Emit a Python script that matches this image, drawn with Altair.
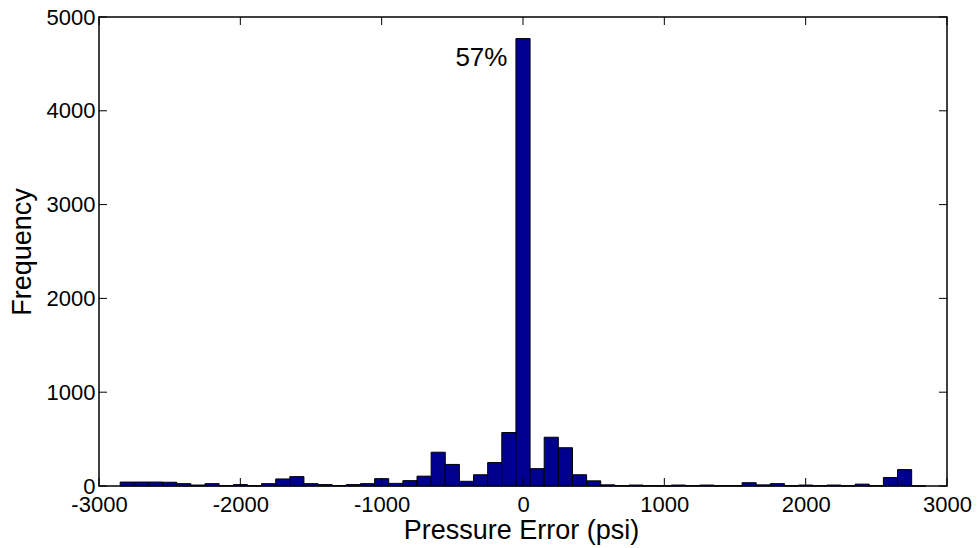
import altair as alt
import pandas as pd

# Histogram data (bin centers in psi, counts)
bin_centers = list(range(-2800, 2900, 100))
counts = [42, 42, 42, 40, 25, 10, 25, 3, 15, 3,
          25, 75, 100, 25, 15, 4, 15, 25, 78, 28,
          57, 105, 360, 230, 50, 120, 250, 570, 4770, 185,
          520, 408, 120, 55, 12, 2, 10, 2, 2, 10,
          2, 10, 2, 2, 35, 12, 25, 2, 10, 2,
          10, 2, 20, 2, 90, 175, 0]
bin_width = 100

x_ticks = [-3000, -2000, -1000, 0, 1000, 2000, 3000]
y_ticks = [0, 1000, 2000, 3000, 4000, 5000]

annot_text = ["57%"]
annot_x = [-110]
annot_y = [4478]

W, H = 848, 469

df = pd.DataFrame({"c": bin_centers, "n": counts})
df["x0"] = df["c"] - bin_width / 2
df["x1"] = df["c"] + bin_width / 2
df["base"] = 0

xs = alt.Scale(domain=[-3000, 3000], nice=False, zero=False)
ys = alt.Scale(domain=[0, 5000], nice=False)
FONT = "Liberation Sans"

xaxis = alt.Axis(
    values=x_ticks, title="Pressure Error (psi)", ticks=False, grid=False,
    domain=False, labelPadding=18, labelBaseline="middle", labelFontSize=22,
    labelFont=FONT, labelColor="black", titleFont=FONT, titleFontSize=27,
    titleFontWeight="normal", titleColor="black", titleBaseline="middle",
    titleY=44, titleX=W / 2 - 2, labelFlush=False, labelOverlap=False,
    labelExpr="datum.value + ''")
yaxis = alt.Axis(
    values=y_ticks, title="Frequency", ticks=False, grid=False, domain=False,
    labelPadding=4, labelFontSize=22, labelFont=FONT, labelColor="black",
    titleFont=FONT, titleFontSize=27, titleFontWeight="normal",
    titleColor="black", titleAngle=-90, titleBaseline="middle",
    titleAlign="center", titleX=-77, titleY=H / 2, labelFlush=False,
    labelOverlap=False, labelExpr="datum.value + ''")

bars = alt.Chart(df).mark_bar(color="#00008F", stroke="black", strokeWidth=1).encode(
    x=alt.X("x0:Q", scale=xs, axis=xaxis),
    x2="x1:Q",
    y=alt.Y("n:Q", scale=ys, axis=yaxis),
    y2="base:Q",
)

xt = pd.DataFrame({"v": x_ticks})
yt = pd.DataFrame({"v": y_ticks})

xb = alt.Chart(xt).mark_rule(color="black", strokeWidth=1).encode(
    x=alt.X("v:Q", scale=xs, axis=xaxis), y=alt.value(H), y2=alt.value(H - 8))
xtop = alt.Chart(xt).mark_rule(color="black", strokeWidth=1).encode(
    x=alt.X("v:Q", scale=xs, axis=xaxis), y=alt.value(0), y2=alt.value(8))
yl = alt.Chart(yt).mark_rule(color="black", strokeWidth=1).encode(
    y=alt.Y("v:Q", scale=ys, axis=yaxis), x=alt.value(0), x2=alt.value(8))
yr = alt.Chart(yt).mark_rule(color="black", strokeWidth=1).encode(
    y=alt.Y("v:Q", scale=ys, axis=yaxis), x=alt.value(W), x2=alt.value(W - 8))

ann = alt.Chart(pd.DataFrame({"t": annot_text, "x": annot_x, "y": annot_y})).mark_text(
    font=FONT, fontSize=26, align="right", baseline="alphabetic", color="black"
).encode(x=alt.X("x:Q", scale=xs, axis=xaxis), y=alt.Y("y:Q", scale=ys, axis=yaxis), text="t:N")

chart = alt.layer(bars, xb, xtop, yl, yr, ann).properties(
    width=W, height=H,
    autosize=alt.AutoSizeParams(type="none"),
    padding={"left": 99, "top": 17, "right": 30, "bottom": 62},
    background="white",
).configure_view(stroke="black", strokeWidth=1.5)

chart.save("out.html", embed_options={"renderer": "svg", "actions": False})
